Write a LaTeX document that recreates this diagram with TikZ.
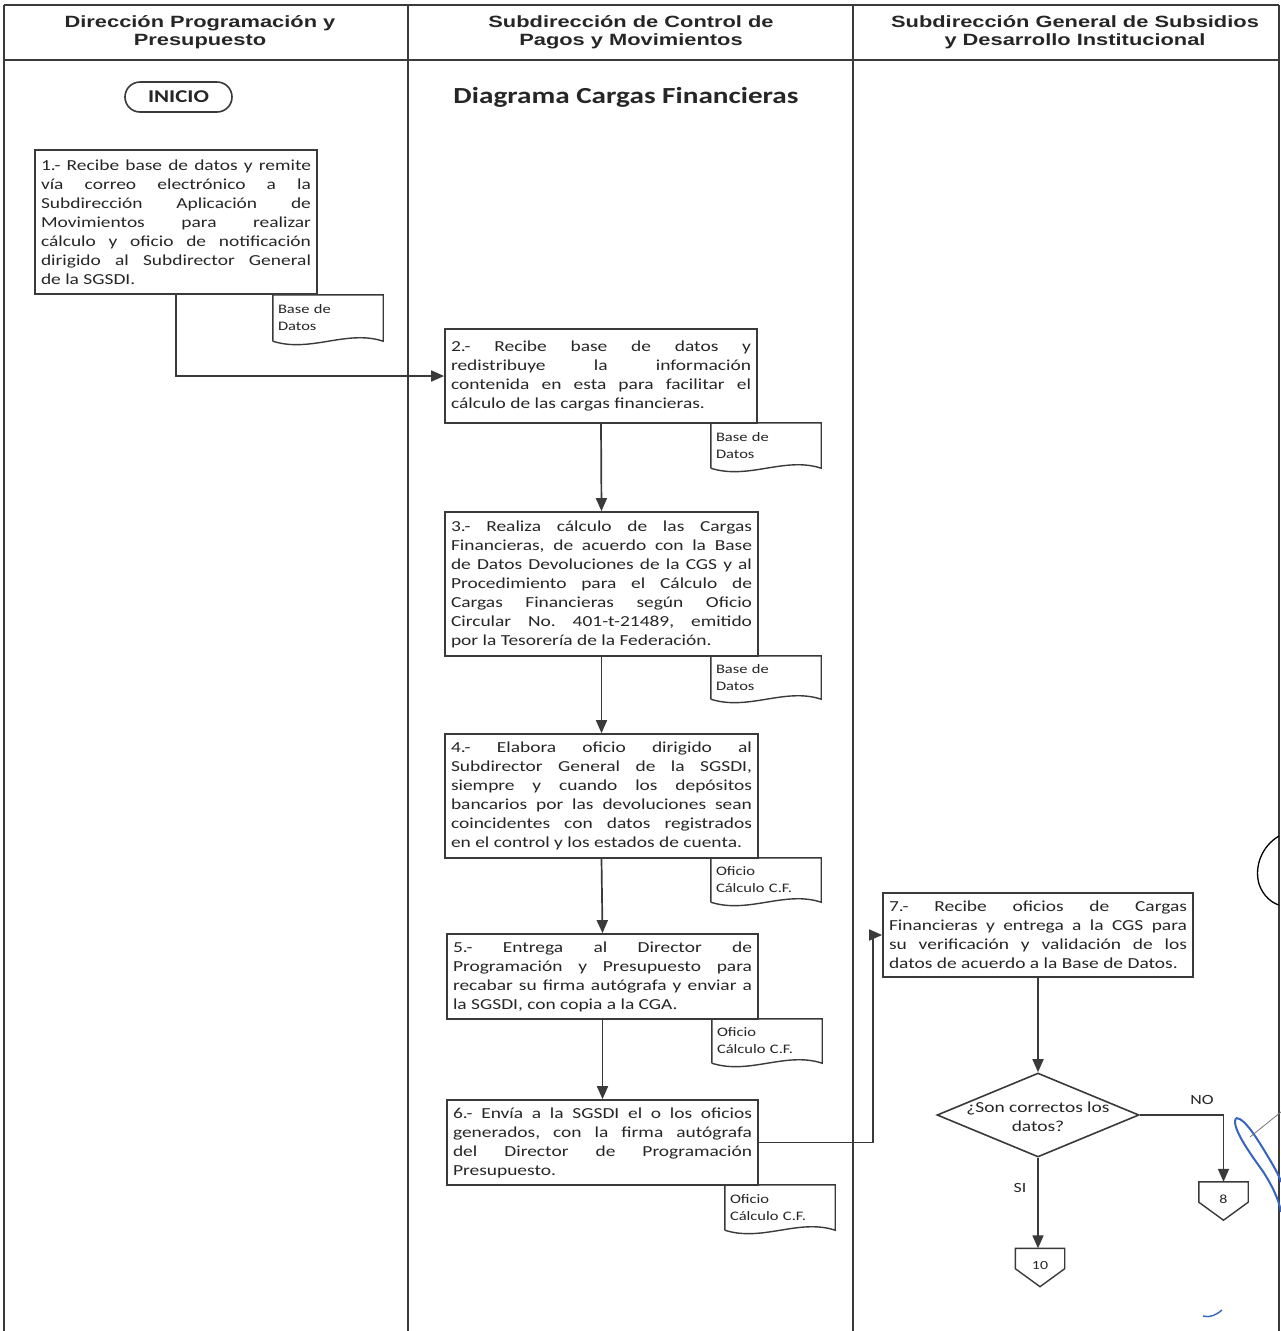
\documentclass[tikz,border=0pt]{standalone}
\usepackage{fontspec}
\usetikzlibrary{arrows.meta,shapes.geometric,calc}
\newfontfamily\boxfont[FakeStretch=1.27]{Carlito}
\newfontfamily\headfont[FakeStretch=1.34]{Liberation Sans}
\definecolor{ink}{HTML}{3A3A3A}
\definecolor{txt}{HTML}{262626}
\definecolor{pen}{HTML}{3565C0}
\pgfdeclarelayer{background}
\pgfsetlayers{background,main}
\tolerance=10000
\pretolerance=-1
\hbadness=10000
\hyphenpenalty=10000
\frenchspacing
\begin{document}
\begin{tikzpicture}[x=1pt,y=-1pt,
  frame/.style={draw=ink, line width=1.8pt},
  headf/.style={align=center, text=txt, inner sep=0pt,
    font=\headfont\bfseries\fontsize{16.3}{18.5}\selectfont},
  stepbox/.style={draw=ink, line width=1.7pt, fill=white, inner xsep=6pt,
    inner ysep=0pt, align=justify, text=txt,
    font=\boxfont\fontsize{15.3}{19}\selectfont},
  docnode/.style={inner xsep=5pt, inner ysep=0pt, text width=100pt,
    align=left, text=txt, font=\boxfont\fontsize{13}{17}\selectfont},
  docline/.style={draw=ink, line width=1.4pt, fill=white},
  startnode/.style={draw=ink, line width=1.6pt, rounded corners=15pt,
    minimum width=107pt, minimum height=30pt, inner sep=0pt, text=txt,
    font=\boxfont\bfseries\fontsize{18}{20}\selectfont},
  decision/.style={draw=ink, line width=1.6pt, shape=diamond, inner sep=0pt,
    minimum width=202pt, minimum height=84pt},
  dectext/.style={align=center, inner sep=0pt, text=txt,
    font=\boxfont\fontsize{15.3}{19}\selectfont},
  offpage/.style={minimum width=49pt, minimum height=38pt, inner sep=0pt,
    text=txt, font=\boxfont\fontsize{12.5}{14}\selectfont},
  lbl/.style={inner sep=0pt, text=txt, font=\boxfont\fontsize{14}{16}\selectfont},
  flow/.style={draw=ink, line width=1.7pt,
    -{Triangle[length=13pt,width=11pt]}},
]
\begin{pgfonlayer}{background}
\fill[white] (0,0) rectangle (1281,1331);
\end{pgfonlayer}
\useasboundingbox (0,0) rectangle (1281,1331);

% swimlane frame
\draw[frame, line width=2.4pt] (4,5) -- (1279,5);
\draw[frame] (4,60) -- (1279,60);
\draw[frame] (4,5) -- (4,1331);
\draw[frame] (408,5) -- (408,1331);
\draw[frame] (853,5) -- (853,1331);
\draw[frame] (1279,5) -- (1279,1331);

% lane titles
\node[headf] (h1) at (200,32) {Dirección Programación y\\Presupuesto};
\node[headf] (h2) at (631,32) {Subdirección de Control de\\Pagos y Movimientos};
\node[headf] (h3) at (1075,32) {Subdirección General de Subsidios\\y Desarrollo Institucional};

% start and title
\node[startnode] (ini) at (178.5,97) {INICIO};
\node[text=txt, inner sep=0pt, font=\boxfont\bfseries\fontsize{23}{26}\selectfont]
  (ttl) at (626,97) {Diagrama Cargas Financieras};

% process steps
\node[stepbox, text width=270pt, minimum height=144pt] (b1) at (176,222)
  {1.- Recibe base de datos y remite\linebreak
   vía correo electrónico a la\linebreak
   Subdirección Aplicación de\linebreak
   Movimientos para realizar\linebreak
   cálculo y oficio de notificación\linebreak
   dirigido al Subdirector General\linebreak
   de la SGSDI.};

\node[stepbox, text width=300pt, minimum height=94pt] (b2) at (601,376)
  {2.- Recibe base de datos y\linebreak
   redistribuye la información\linebreak
   contenida en esta para facilitar el\linebreak
   cálculo de las cargas financieras.};

\node[stepbox, text width=301pt, minimum height=144pt] (b3) at (601.5,584)
  {3.- Realiza cálculo de las Cargas\linebreak
   Financieras, de acuerdo con la Base\linebreak
   de Datos Devoluciones de la CGS y al\linebreak
   Procedimiento para el Cálculo de\linebreak
   Cargas Financieras según Oficio\linebreak
   Circular No. 401-t-21489, emitido\linebreak
   por la Tesorería de la Federación.};

\node[stepbox, text width=301pt, minimum height=124pt] (b4) at (601.5,796)
  {4.- Elabora oficio dirigido al\linebreak
   Subdirector General de la SGSDI,\linebreak
   siempre y cuando los depósitos\linebreak
   bancarios por las devoluciones sean\linebreak
   coincidentes con datos registrados\linebreak
   en el control y los estados de cuenta.};

\node[stepbox, text width=299pt, minimum height=85pt] (b5) at (602.5,976.5)
  {5.- Entrega al Director de\linebreak
   Programación y Presupuesto para\linebreak
   recabar su firma autógrafa y enviar a\linebreak
   la SGSDI, con copia a la CGA.};

\node[stepbox, text width=299pt, minimum height=85pt] (b6) at (602.5,1142.5)
  {6.- Envía a la SGSDI el o los oficios\linebreak
   generados, con la firma autógrafa\linebreak
   del Director de Programación\linebreak
   Presupuesto.};

\node[stepbox, text width=298pt, minimum height=84pt] (b7) at (1038,935)
  {7.- Recibe oficios de Cargas\linebreak
   Financieras y entrega a la CGS para\linebreak
   su verificación y validación de los\linebreak
   datos de acuerdo a la Base de Datos.};

% decision
\node[decision] (dec) at (1038,1115) {};
\node[dectext] (dq) at (1038,1117) {¿Son correctos los\\datos?};
\node[lbl] (no) at (1202,1100) {NO};
\node[lbl] (si) at (1020,1188) {SI};

% off-page connectors
\node[offpage] (c8) at (1223.5,1201) {\raisebox{4pt}{8}};
\node[offpage] (c10) at (1040,1267.5) {\raisebox{4pt}{10}};
\foreach \c in {c8,c10}
  \draw[draw=ink, line width=1.4pt] (\c.north west) -- (\c.north east)
    -- ([yshift=18pt]\c.south east) -- (\c.south)
    -- ([yshift=18pt]\c.south west) -- cycle;

% connectors
\coordinate (j67) at (873,1142.5);
\draw[flow] (b1.south) |- (b2.west);
\draw[flow] (b2.south) -- (b3.north);
\draw[flow] (b3.south) -- (b4.north);
\draw[flow] (b4.south) -- (b5.north);
\draw[flow] (b5.south) -- (b6.north);
\draw[flow] (b6.east) -- (j67) |- (b7.west);
\draw[flow] (b7.south) -- (dec.north);
\draw[flow] (dec.east) -| (c8.north);
\draw[flow] (dec.south) -- (dec.south |- c10.north);

% documents attached to the steps (outline drawn behind the text)
\node[docnode, minimum height=46pt] (d1) at (328,318) {Base de\\Datos};
\node[docnode, minimum height=45pt] (d2) at (766,445.5) {Base de\\Datos};
\node[docnode, minimum height=43pt] (d3) at (766,677.5) {Base de\\Datos};
\node[docnode, minimum height=44pt] (d4) at (766,880) {Oficio\\Cálculo C.F.};
\node[docnode, minimum height=44pt] (d5) at (767,1041) {Oficio\\Cálculo C.F.};
\node[docnode, minimum height=45pt] (d6) at (780,1207.5) {Oficio\\Cálculo C.F.};
\begin{pgfonlayer}{background}
\foreach \d in {d1,d2,d3,d4,d5,d6}
  \draw[docline] (\d.south west) -- (\d.north west) -- (\d.north east)
    -- (\d.south east)
    .. controls ($(\d.south east)!0.33!(\d.south west)+(0,-12)$)
    and ($(\d.south east)!0.66!(\d.south west)+(0,12)$) .. (\d.south west);
\end{pgfonlayer}

% hand-written marks
\draw[black, line width=1.3pt] (1279,836) .. controls (1262,846) and (1254,866)
  .. (1259,884) .. controls (1263,896) and (1272,903) .. (1279,905);
\draw[pen, line width=2pt] (1236,1118) .. controls (1232,1124) and (1240,1140)
  .. (1262,1170) .. controls (1272,1185) and (1279,1200) .. (1281,1212);
\draw[pen, line width=2pt] (1236,1118) .. controls (1245,1118) and (1258,1140)
  .. (1270,1160) .. controls (1276,1170) and (1280,1178) .. (1281,1182);
\draw[ink!70, line width=0.8pt] (1250,1137) -- (1281,1112);
\draw[pen, line width=1.4pt] (1203,1316) .. controls (1210,1318) and (1216,1315) .. (1222,1310);
\end{tikzpicture}
\end{document}
